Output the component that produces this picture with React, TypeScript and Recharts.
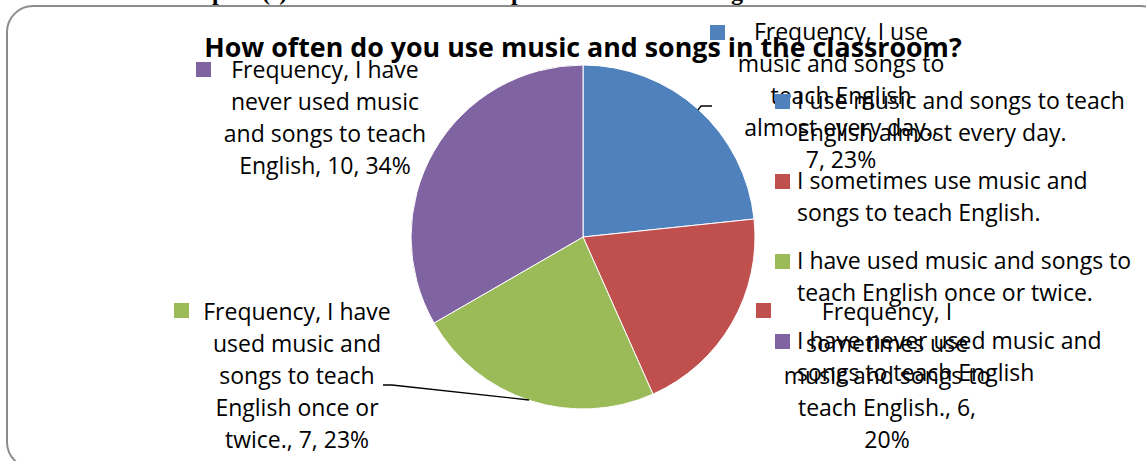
import React from 'react';
import { PieChart, Pie, Cell, Legend } from 'recharts';

// survey answers (legend order = slice order, clockwise from 12 o'clock)
const categories = [
  'I use music and songs to teach English almost every day.',
  'I sometimes use music and songs to teach English.',
  'I have used music and songs to teach English once or twice.',
  'I have never used music and songs to teach English',
];
const frequency = [7, 6, 7, 10];
const percents = [23, 20, 23, 34];
const seriesName = 'Frequency';
const title = 'How often do you use music and songs in the classroom?';

const COLORS = ['#4F81BD', '#C0504D', '#9BBB59', '#8064A2'];

// how many words go on each line of the data labels
const LINE_BREAKS = [
  [3, 4, 2, 3, 2],
  [2, 2, 4, 3, 1],
  [3, 3, 3, 3, 3],
  [3, 3, 4, 3],
];

// where each data label block sits (center x, first baseline, key square, leader line)
const LABEL_LAYOUT = [
  { x: 841, y: 40, kx: 710, ky: 25, leader: [[698, 110], [701, 106], [712, 106]] },
  { x: 887, y: 320, kx: 756, ky: 303, leader: null },
  { x: 297, y: 320, kx: 174, ky: 303, leader: [[383, 385], [392, 385], [529, 400]] },
  { x: 325, y: 78, kx: 196, ky: 62, leader: null },
];

const FONT = '"Open Sans", Lato, sans-serif';
const FONT_SIZE = 23;
const LINE_H = 32;

const data = categories.map((name, i) => ({ name, value: frequency[i], pct: percents[i] }));

function wrapLabel(i: number) {
  const words = `${seriesName}, ${data[i].name}, ${data[i].value}, ${data[i].pct}%`.split(' ');
  const lines: string[] = [];
  let k = 0;
  LINE_BREAKS[i].forEach((n) => {
    lines.push(words.slice(k, k + n).join(' '));
    k += n;
  });
  return lines;
}

const renderLabel = (props: any) => {
  const i = props.index ?? 0;
  const pos = LABEL_LAYOUT[i];
  const lines = wrapLabel(i);
  return (
    <g key={`lbl-${i}`}>
      {pos.leader && (
        <polyline
          points={pos.leader.map((p) => p.join(',')).join(' ')}
          fill="none"
          stroke="#000"
          strokeWidth={1.3}
        />
      )}
      <rect x={pos.kx} y={pos.ky} width={15} height={15} fill={COLORS[i]} />
      {lines.map((l, j) => (
        <text
          key={j}
          x={pos.x}
          y={pos.y + j * LINE_H}
          textAnchor="middle"
          fontFamily={FONT}
          fontSize={FONT_SIZE}
          fill="#000"
        >
          {l}
        </text>
      ))}
    </g>
  );
};

const renderLegend = () => (
  <div style={{ fontFamily: FONT, fontSize: FONT_SIZE, lineHeight: `${LINE_H}px`, color: '#000' }}>
    {categories.map((c, i) => (
      <div key={c} style={{ display: 'flex', alignItems: 'flex-start', marginBottom: 16 }}>
        <div style={{ width: 15, height: 15, background: COLORS[i], marginTop: 10, marginRight: 7, flexShrink: 0 }} />
        <div style={{ width: 345 }}>{c}</div>
      </div>
    ))}
  </div>
);

export default function App() {
  return (
    <div style={{ position: 'absolute', left: 0, top: 0, width: 1146, height: 461, overflow: 'hidden', background: '#fff' }}>
      <PieChart width={1146} height={461} margin={{ top: 0, right: 0, bottom: 0, left: 0 }}>
        {/* chart area frame */}
        <rect x={7} y={6} width={1160} height={462} rx={26} ry={26} fill="#fff" stroke="#8c8c8c" strokeWidth={2} />
        {/* heading of the page above, cut off */}
        <text x={212} y={0} fontFamily='"Liberation Serif", serif' fontWeight="bold" fontSize={24} fill="#000">p</text>
        <text x={262} y={0} fontFamily='"Liberation Serif", serif' fontWeight="bold" fontSize={24} fill="#000">(s)</text>
        <text x={511} y={0} fontFamily='"Liberation Serif", serif' fontWeight="bold" fontSize={24} fill="#000">p</text>
        <text x={731} y={0} fontFamily='"Liberation Serif", serif' fontWeight="bold" fontSize={24} fill="#000">g</text>
        <text x={583} y={57} textAnchor="middle" fontFamily={FONT} fontWeight="bold" fontSize={26.8} fill="#000">
          {title}
        </text>
        <Pie
          data={data}
          dataKey="value"
          nameKey="name"
          cx={583}
          cy={237}
          outerRadius={172}
          startAngle={90}
          endAngle={-270}
          stroke="#fff"
          strokeWidth={1}
          label={renderLabel}
          labelLine={false}
          isAnimationActive={false}
        >
          {data.map((d, i) => (
            <Cell key={d.name} fill={COLORS[i]} />
          ))}
        </Pie>
        <Legend
          layout="vertical"
          align="right"
          verticalAlign="top"
          content={renderLegend}
          wrapperStyle={{ left: 775, top: 84, width: 370 }}
        />
      </PieChart>
    </div>
  );
}
